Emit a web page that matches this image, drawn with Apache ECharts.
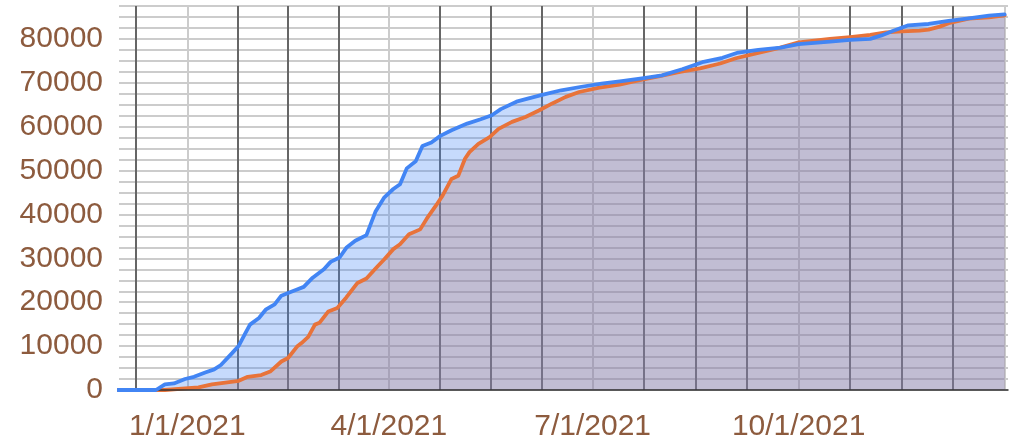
<!DOCTYPE html>
<html>
<head>
<meta charset="utf-8">
<script src="https://cdn.jsdelivr.net/npm/echarts/dist/echarts.min.js"></script>
<style>
html,body{margin:0;padding:0;background:#fff;}
#chart{width:1010px;height:444px;}
</style>
</head>
<body>
<div id="chart"></div>
<script>
// ---- data ----
const blueDates = ['2020-12-01','2020-12-15','2020-12-18','2020-12-22','2020-12-26','2020-12-31','2021-01-04','2021-01-09','2021-01-13','2021-01-16','2021-01-21','2021-01-24','2021-01-27','2021-01-29','2021-02-02','2021-02-05','2021-02-09','2021-02-12','2021-02-15','2021-02-19','2021-02-22','2021-02-26','2021-03-03','2021-03-06','2021-03-10','2021-03-13','2021-03-17','2021-03-22','2021-03-26','2021-03-30','2021-04-03','2021-04-06','2021-04-09','2021-04-13','2021-04-16','2021-04-20','2021-04-24','2021-04-29','2021-05-06','2021-05-12','2021-05-17','2021-05-21','2021-05-28','2021-06-02','2021-06-08','2021-06-17','2021-06-26','2021-07-05','2021-07-14','2021-07-23','2021-08-01','2021-08-10','2021-08-19','2021-08-28','2021-09-04','2021-09-13','2021-09-23','2021-10-01','2021-10-15','2021-10-24','2021-11-02','2021-11-07','2021-11-12','2021-11-19','2021-11-28','2021-12-07','2021-12-16','2021-12-25','2022-01-01'];
const blueValues = [0,0,0,1300,1500,2500,3000,4000,4700,5700,8400,10100,13000,14900,16400,18300,19500,21500,22100,22900,23500,25600,27500,29200,30200,32400,34000,35300,40600,43900,45800,46900,50500,52100,55600,56400,57900,59200,60700,61700,62600,64000,65700,66400,67200,68300,69100,69800,70400,71000,71700,73100,74700,75700,76900,77500,78000,78800,79400,79800,80000,80800,81800,83100,83400,84100,84700,85300,85600];

const orangeDates = ['2020-12-01','2020-12-22','2021-01-06','2021-01-12','2021-01-18','2021-01-24','2021-01-28','2021-02-03','2021-02-07','2021-02-12','2021-02-15','2021-02-19','2021-02-21','2021-02-24','2021-02-27','2021-03-01','2021-03-05','2021-03-09','2021-03-13','2021-03-18','2021-03-22','2021-03-27','2021-03-30','2021-04-03','2021-04-06','2021-04-10','2021-04-15','2021-04-18','2021-04-22','2021-04-25','2021-04-29','2021-05-02','2021-05-05','2021-05-07','2021-05-11','2021-05-16','2021-05-20','2021-05-26','2021-06-01','2021-06-07','2021-06-13','2021-06-19','2021-06-25','2021-07-04','2021-07-13','2021-07-22','2021-07-31','2021-08-09','2021-08-18','2021-08-27','2021-09-03','2021-09-12','2021-09-22','2021-10-01','2021-10-15','2021-10-24','2021-11-02','2021-11-09','2021-11-16','2021-11-24','2021-11-28','2021-12-03','2021-12-07','2021-12-16','2021-12-25','2022-01-01'];
const orangeValues = [0,0,600,1300,1700,2100,3000,3400,4200,6500,7300,9900,10700,12100,14900,15300,17900,18700,21100,24400,25400,28200,29800,32100,33200,35500,36600,39100,42000,44300,48100,48800,52700,54200,56100,57600,59500,61100,62200,63700,65300,66800,67900,68900,69600,70600,71500,72500,73300,74400,75600,76700,77900,79200,80000,80400,80900,81500,81700,81900,82100,82800,83600,84600,84900,85350];

// axis ticks (days from 2021-01-01)
const labelDays = [0, 90, 181, 273];
const xTickLabels = ['1/1/2021', '4/1/2021', '7/1/2021', '10/1/2021'];
const lightLineDays = [0, 90, 181, 273, 365];
const darkLineDays = [-23, 22.5, 45, 67.5, 112.75, 135.5, 158.25, 204, 227, 250, 296, 319, 342];

// ---- build ----
const ORIGIN = Date.UTC(2021, 0, 1);
function dayOf(s) {
  const p = s.split('-').map(Number);
  return (Date.UTC(p[0], p[1] - 1, p[2]) - ORIGIN) / 86400000;
}
const blueData = blueDates.map((d, i) => [dayOf(d), blueValues[i]]);
const orangeData = orangeDates.map((d, i) => [dayOf(d), orangeValues[i]]);

const XMIN = -30.5, XMAX = 366.5;
const labelColor = '#8d5b3e';
const font = "'Liberation Sans', Arial, sans-serif";
const BLUE = '#4285f4', ORANGE = '#e8733a';

function areaSeries(name, data, color, z) {
  return {
    name: name + '-area', type: 'line', xAxisIndex: 0, data: data,
    showSymbol: false, smooth: false, silent: true,
    lineStyle: {width: 0, color: color}, itemStyle: {color: color},
    areaStyle: {color: color, opacity: 0.3}, z: z
  };
}
function lineSeries(name, data, color, z) {
  return {
    name: name, type: 'line', xAxisIndex: 0, data: data,
    showSymbol: false, smooth: false,
    lineStyle: {width: 3.8, color: color, join: 'round', cap: 'round'}, itemStyle: {color: color}, z: z
  };
}

const chart = echarts.init(document.getElementById('chart'), null, {renderer: 'canvas'});
chart.setOption({
  animation: false,
  grid: {left: 119, right: 2, top: 6, bottom: 54, containLabel: false},
  xAxis: [
    {
      type: 'value', min: XMIN, max: XMAX, gridIndex: 0,
      axisLine: {show: true, lineStyle: {color: '#333', width: 1.5}},
      axisTick: {show: false}, axisLabel: {show: false}, splitLine: {show: false}, z: 5
    },
    {
      type: 'value', min: XMIN, max: XMAX, gridIndex: 0, position: 'bottom',
      axisLine: {show: false},
      axisTick: {show: false, customValues: lightLineDays},
      axisLabel: {
        show: true, customValues: labelDays, margin: 22,
        color: labelColor, fontSize: 30, fontFamily: font,
        formatter: v => { const i = labelDays.indexOf(v); return i >= 0 ? xTickLabels[i] : ''; }
      },
      splitLine: {show: true, lineStyle: {color: '#cccccc', width: 2}}
    },
    {
      type: 'value', min: XMIN, max: XMAX, gridIndex: 0, position: 'bottom',
      axisLine: {show: false},
      axisTick: {show: false, customValues: darkLineDays},
      axisLabel: {show: false},
      splitLine: {show: true, lineStyle: {color: '#666666', width: 2}}
    }
  ],
  yAxis: {
    type: 'value', min: 0, max: 87500, interval: 2500,
    axisLine: {show: false}, axisTick: {show: false},
    axisLabel: {
      margin: 16, color: labelColor, fontSize: 30, fontFamily: font,
      formatter: v => (v % 10000 === 0 ? String(v) : '')
    },
    splitLine: {show: true, lineStyle: {color: '#cccccc', width: 2}}
  },
  series: [
    areaSeries('orange', orangeData, ORANGE, 2),
    areaSeries('blue', blueData, BLUE, 3),
    lineSeries('orange', orangeData, ORANGE, 4),
    lineSeries('blue', blueData, BLUE, 5)
  ]
});
</script>
</body>
</html>
